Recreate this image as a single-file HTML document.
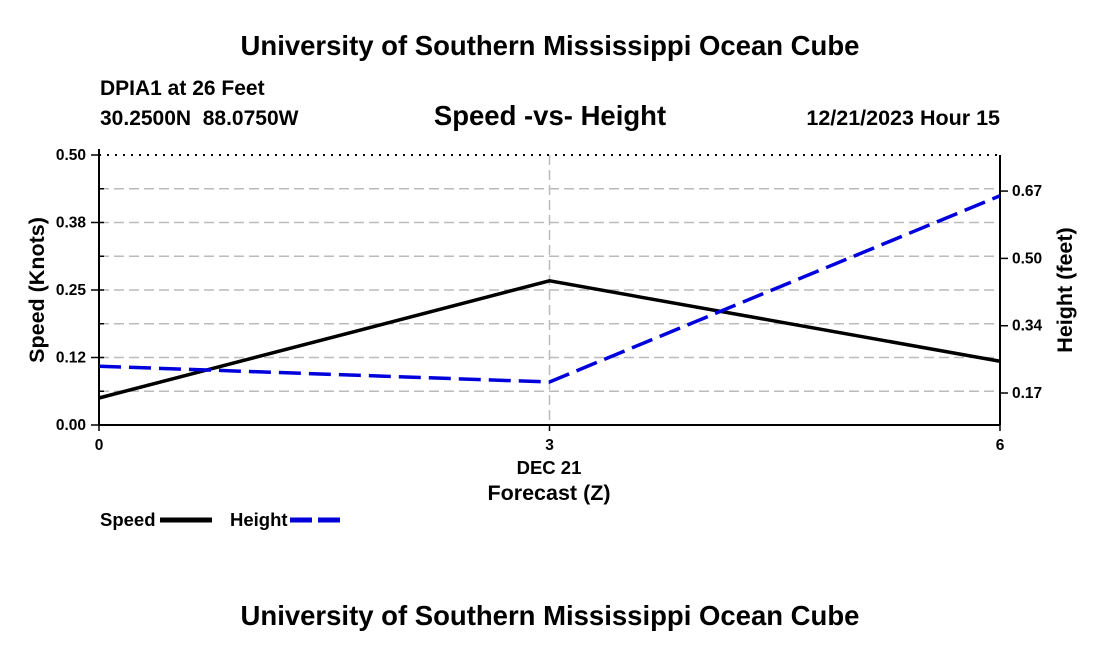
<!DOCTYPE html>
<html><head><meta charset="utf-8"><style>
body{margin:0;background:#fff;width:1100px;height:650px;overflow:hidden;font-family:"Liberation Sans",sans-serif}
text{font-family:"Liberation Sans",sans-serif;font-weight:bold;fill:#000;white-space:pre}
</style></head><body>
<svg id="chart" width="1100" height="650" xmlns="http://www.w3.org/2000/svg">
<text x="550" y="55" font-size="27.5" text-anchor="middle">University of Southern Mississippi Ocean Cube</text>
<text x="100" y="95" font-size="21">DPIA1 at 26 Feet</text>
<text x="100" y="125" font-size="21" xml:space="preserve">30.2500N  88.0750W</text>
<text x="550" y="125" font-size="27.5" text-anchor="middle">Speed -vs- Height</text>
<text x="1000" y="125" font-size="21.5" text-anchor="end">12/21/2023 Hour 15</text>
<g id="grid"></g><g id="axes"></g><g id="series"></g>
<text x="549" y="474" font-size="18.5" text-anchor="middle">DEC 21</text>
<text x="549" y="500" font-size="21.5" text-anchor="middle">Forecast (Z)</text>
<text transform="translate(44,290) rotate(-90)" font-size="21.5" text-anchor="middle">Speed (Knots)</text>
<text transform="translate(1072,290) rotate(-90)" font-size="21.5" text-anchor="middle">Height (feet)</text>
<g><text x="100" y="526" font-size="18.5">Speed</text><line x1="160" y1="520" x2="212" y2="520" stroke="#000" stroke-width="5"/></g>
<g><text x="230" y="526" font-size="18.5">Height</text><line x1="290" y1="520" x2="342" y2="520" stroke="#0000dd" stroke-width="5" stroke-dasharray="22,6"/></g>
<text x="550" y="625" font-size="27.5" text-anchor="middle">University of Southern Mississippi Ocean Cube</text>
</svg>
<script>
const hours=[0,3,6];
const speed=[0.05,0.267,0.118];
const height=[0.233,0.194,0.655];
const leftTicks=[0,0.125,0.25,0.375,0.5];
const leftLabels=["0.00","0.12","0.25","0.38","0.50"];
const rightTicks=[0.1667,0.3333,0.5,0.6667];
const rightLabels=["0.17","0.34","0.50","0.67"];
const xTicks=[0,3,6];
const X0=99,X1=1000,Y0=425,Y1=155;
const xs=v=>X0+(v-0)/6*(X1-X0);
const ys=v=>Y0-v/0.5*(Y0-Y1);
const RMIN=0.0875,RMAX=0.756;
const yr=v=>Y0-(v-RMIN)/(RMAX-RMIN)*(Y0-Y1);
const NS="http://www.w3.org/2000/svg";
function mk(p,t,a){const e=document.createElementNS(NS,t);for(const k in a)e.setAttribute(k,a[k]);p.appendChild(e);return e;}
const gGrid=document.getElementById('grid'),gAx=document.getElementById('axes'),gSe=document.getElementById('series');
for(let i=1;i<8;i++){const y=ys(i*0.0625);
const l=mk(gGrid,'line',{x1:X0,x2:X1,y1:y,y2:y,stroke:'#bbb','stroke-width':1.5,'stroke-dasharray':'10,5'});


const m=mk(gAx,'line',{x1:X0,x2:X0+5,y1:y,y2:y,stroke:'#000','stroke-width':1.5});

}
const vg=mk(gGrid,'line',{x1:xs(3),x2:xs(3),y1:Y1,y2:Y0,stroke:'#bbb','stroke-width':1.5,'stroke-dasharray':'10,5'});


const topBorder=mk(gAx,'line',{x1:X0,x2:X1,y1:Y1,y2:Y1,stroke:'#000','stroke-width':2,'stroke-dasharray':'2,6'});


[[X0,Y1-6,X0,Y0],[X1,Y1,X1,Y0],[X0,Y0,X1,Y0]].forEach((c,i)=>{const l=mk(gAx,'line',{x1:c[0],y1:c[1],x2:c[2],y2:c[3],stroke:'#000','stroke-width':2});

});
leftTicks.forEach((v,i)=>{const y=ys(v);mk(gAx,'line',{x1:X0-8,x2:X0,y1:y,y2:y,stroke:'#000','stroke-width':1.5});
const t=mk(gAx,'text',{x:X0-13,y:y+5,'font-size':15.5,'text-anchor':'end'});t.textContent=leftLabels[i];

});
rightTicks.forEach((v,i)=>{const y=yr(v);mk(gAx,'line',{x1:X1,x2:X1+8,y1:y,y2:y,stroke:'#000','stroke-width':1.5});
const t=mk(gAx,'text',{x:X1+12,y:y+5,'font-size':15.5});t.textContent=rightLabels[i];

});
xTicks.forEach(v=>{const x=xs(v);mk(gAx,'line',{x1:x,x2:x,y1:Y0,y2:Y0+6,stroke:'#000','stroke-width':1.5});
const t=mk(gAx,'text',{x:x,y:Y0+25,'font-size':15.5,'text-anchor':'middle'});t.textContent=v;

});
const sp=mk(gSe,'polyline',{points:hours.map((h,i)=>xs(h)+','+ys(speed[i])).join(' '),fill:'none',stroke:'#000','stroke-width':3.5});


const hp=mk(gSe,'polyline',{points:hours.map((h,i)=>xs(h)+','+yr(height[i])).join(' '),fill:'none',stroke:'#0000dd','stroke-width':3.5,'stroke-dasharray':'22,8'});


</script>
</body></html>
